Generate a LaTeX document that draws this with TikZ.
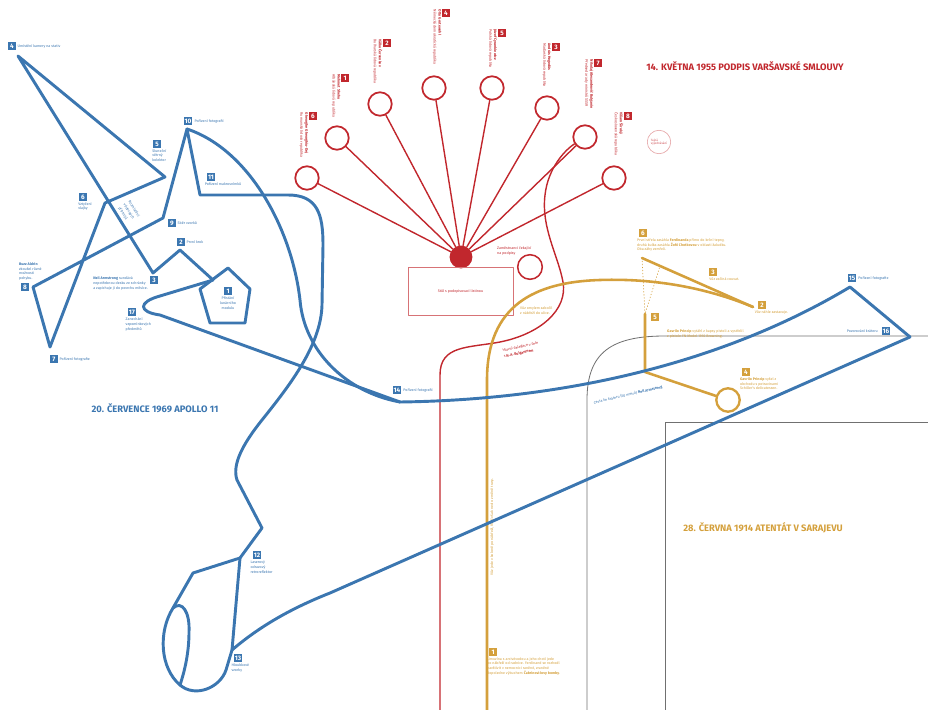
\documentclass[tikz,border=0pt]{standalone}
\usepackage{fontspec}
\setmainfont{Fira Sans}
\usetikzlibrary{positioning}
\definecolor{apblue}{HTML}{3B76B0}
\definecolor{wred}{HTML}{C1272D}
\definecolor{sgold}{HTML}{D4A03C}
\definecolor{mapgray}{HTML}{707070}
\tikzset{
  route/.style={draw=apblue, line width=2.5pt},
  redline/.style={draw=wred, line width=1.2pt},
  goldline/.style={draw=sgold, line width=2.2pt},
  num/.style={fill=#1, text=white, font=\fontsize{5.5}{5.5}\selectfont\bfseries, inner xsep=0.8pt, inner ysep=0pt, minimum width=6pt, minimum height=6pt},
  lab/.style={text=#1, font=\fontsize{3.1}{4.2}\selectfont, align=left, inner sep=0pt},
  rlab/.style={lab=wred, rotate=-90, anchor=north west},
  head/.style={text=#1, font=\fontsize{8}{8}\selectfont\bfseries, inner sep=0pt},
  seat/.style={circle, draw=wred, line width=1.5pt, minimum size=20pt, inner sep=0pt}
}
\begin{document}
\begin{tikzpicture}[x=0.03cm, y=-0.03cm, line cap=round, line join=round]
  \useasboundingbox (0,0) rectangle (928,710);

  % Map of Sarajevo streets (thin gray)
  \draw[mapgray, line width=0.7pt] (587,710) -- (587,400) .. controls (587,352) and (612,336) .. (665,336) -- (928,336);
  \draw[mapgray, line width=0.7pt] (665,710) -- (665,422) -- (928,422);

  % Warsaw treaty: seats round the table
  \node[seat] (c6) at (307,178) {};
  \node[seat] (c1) at (337,138) {};
  \node[seat] (c2) at (380,104) {};
  \node[seat] (c4) at (434,88) {};
  \node[seat] (c5) at (492,88) {};
  \node[seat] (c3) at (547,108) {};
  \node[seat] (c7) at (585,137) {};
  \node[seat] (c8) at (614,178) {};
  \node[circle, fill=wred, minimum size=19.5pt, inner sep=0pt] (dot) at (461,257) {};
  \node[draw=wred!65, line width=0.8pt, minimum width=3.15cm, minimum height=1.44cm, lab=wred] (table) at (460.5,291) {Stůl s podepisovací listinou};
  \node[seat, line width=1.3pt, minimum size=21pt] (wait) at (530,267) {};
  \node[circle, draw=wred!45, line width=0.5pt, minimum size=20pt, lab=wred!80, font=\fontsize{2.6}{3.2}\selectfont] (secret) at (659,142) {Tajná\\vyjednávání};

  \foreach \c in {c1,c2,c3,c4,c5,c6,c7,c8}
    \draw[redline] (dot) -- (\c);

  % delegation route
  \coordinate (rstart) at (440,710);
  \draw[redline] (rstart) -- (440,375) .. controls (440,345) and (468,348) .. (500,342)
    .. controls (540,334) and (568,310) .. (563,282) .. controls (558,255) and (541,228) .. (545,195)
    .. controls (548,168) and (565,150) .. (c7);

  % Signatories
  \node[num=wred] (r6) at (313,116) {6};
  \node[rlab] (q6) at (308.5,112.5) {\textbf{Gheorghe Gheorghiu-Dej}\\Rumunská lidová republika};
  \node[num=wred] (r1) at (345,78) {1};
  \node[rlab] (q1) at (340.5,74.5) {\textbf{Mehmet Shehu}\\Albánská lidová republika};
  \node[num=wred] (r2) at (387,43) {2};
  \node[rlab] (q2) at (382.5,39.5) {\textbf{Vălko Červenkov}\\Bulharská lidová republika};
  \node[num=wred] (r4) at (446,13) {4};
  \node[rlab] (q4) at (441.5,9.5) {\textbf{Otto Grotewohl}\\Německá demokratická republika};
  \node[num=wred] (r5) at (502,33) {5};
  \node[rlab] (q5) at (497.5,29.5) {\textbf{Józef Cyrankiewicz}\\Polská lidová republika};
  \node[num=wred] (r3) at (556,47) {3};
  \node[rlab] (q3) at (551.5,43.5) {\textbf{András Hegedüs}\\Maďarská lidová republika};
  \node[num=wred] (r7) at (598,63) {7};
  \node[rlab] (q7) at (593.5,59.5) {\textbf{Nikolaj Alexandrovič Bulganin}\\Předseda rady ministrů SSSR};
  \node[num=wred] (r8) at (628,116) {8};
  \node[rlab] (q8) at (623.5,112.5) {\textbf{Viliam Široký}\\Československá republika};

  \node[lab=wred, anchor=north west] (twait) at (497,246) {Zaměstnanci čekající\\na podpisy};
  \node[lab=wred, rotate=12, font=\fontsize{3.1}{5.2}\selectfont] (tdeleg) at (521,350) {Hlavní delegace v čele\\s \textbf{N. A. Bulganinem}};
  \node[head=wred] (warsaw) at (745,66) {14. KVĚTNA 1955 PODPIS VARŠAVSKÉ SMLOUVY};

  % Sarajevo: route of the car
  \coordinate (gstart) at (487,710);
  \coordinate (gturn) at (487,380);
  \coordinate (gtwo) at (753,307);
  \coordinate (gsix) at (642,258);
  \coordinate (gmid) at (660,266);
  \coordinate (gfivetop) at (645,314);
  \coordinate (gfivebot) at (645,372);
  \node[circle, draw=sgold, line width=2pt, minimum size=20pt, inner sep=0pt] (gcirc) at (728,400) {};
  \draw[goldline] (gstart) -- (gturn) .. controls (487,305) and (535,282) .. (600,280)
    .. controls (660,278) and (712,290) .. (gtwo);
  \draw[goldline] (gsix) -- (gtwo);
  \draw[sgold, line width=0.6pt, dotted] (gsix) -- (gfivetop) -- (gmid);
  \draw[goldline] (gfivetop) -- (gfivebot) -- (gcirc);

  \node[num=sgold] (g1) at (493,652) {1};
  \node[lab=sgold, below=1pt of g1.south west, anchor=north west, xshift=-2pt] (u1) {Limuzína s arcivévodou a jeho chotí jede\\po nábřeží od radnice. Ferdinand se rozhodl\\navštívit v nemocnici raněné, zraněné\\dopoledne výbuchem \textbf{Čabrinovićovy bomby}.};
  \node[lab=sgold, rotate=90] (uquay) at (492,527) {Vůz jede v koloně po nábřeží, řidič však neví o změně trasy.};
  \node[lab=sgold, anchor=north west] (uturn) at (520,306) {Vůz omylem zabočil\\z nábřeží do ulice.};
  \node[num=sgold] (g2) at (762,305) {2};
  \node[lab=sgold, below=1pt of g2.south west, anchor=north west, xshift=-3pt] (u2) {Vůz náhle zastavuje.};
  \node[num=sgold] (g3) at (713,272) {3};
  \node[lab=sgold, below=1pt of g3.south west, anchor=north west] (u3) {Vůz začíná couvat.};
  \node[num=sgold] (g4) at (746,372) {4};
  \node[lab=sgold, below=1pt of g4.south west, anchor=north west, xshift=-2pt] (u4) {\textbf{Gavrilo Princip} vyšel z\\obchodu s potravinami\\Schiller's delicatessen.};
  \node[num=sgold] (g5) at (655,317) {5};
  \node[lab=sgold, anchor=north west] (u5) at (667,329) {\textbf{Gavrilo Princip} vytáhl z kapsy pistoli a vystřelil\\z pistole FN Model 1910 Browning.};
  \node[num=sgold] (g6) at (643,233) {6};
  \node[lab=sgold, below=1pt of g6.south west, anchor=north west, xshift=-2pt] (u6) {První střela zasáhla \textbf{Ferdinanda} přímo do krční tepny,\\druhá kulka zasáhla \textbf{Žofii Chotkovou} v oblasti žaludku.\\Oba záhy zemřeli.};
  \node[head=sgold] (sarajevo) at (763,528) {28. ČERVNA 1914 ATENTÁT V SARAJEVU};

  % Apollo 11: walk on the Moon
  \coordinate (pa) at (228,268);
  \coordinate (pb) at (250,289);
  \coordinate (pc) at (245,323);
  \coordinate (pd) at (210,323);
  \coordinate (pe) at (200,289);
  \coordinate (s0) at (213,280);
  \coordinate (s2) at (180,250);
  \coordinate (s3) at (153,273);
  \coordinate (s4) at (18,56);
  \coordinate (s5) at (165,177);
  \coordinate (s6) at (105,203);
  \coordinate (s7) at (50,347);
  \coordinate (s8) at (33,287);
  \coordinate (s9) at (163,218);
  \coordinate (s10) at (187,129);
  \coordinate (s11) at (200,195);
  \coordinate (s12) at (240,558);
  \coordinate (s13) at (232,650);
  \coordinate (s14) at (400,402);
  \coordinate (s15) at (850,287);
  \coordinate (s16) at (910,337);

  \draw[route] (pa) -- (pb) -- (pc) -- (pd) -- (pe) -- cycle;
  \draw[route] (s0) -- (s2) -- (s3) -- (s4) -- (s5) -- (s6) -- (s7) -- (s8) -- (s9) -- (s10) -- (s11)
    -- (288,195) .. controls (318,195) and (323,215) .. (323,245) -- (322,305)
    .. controls (321,345) and (290,385) .. (262,420) .. controls (242,445) and (232,465) .. (237,480)
    -- (262,528) -- (s12);
  \draw[route] (s10) .. controls (250,150) and (292,230) .. (300,300) .. controls (304,350) and (345,392) .. (s14);
  \draw[route] (s0) -- (160,296) .. controls (138,302) and (138,312) .. (160,315) -- (s14);
  \draw[route] (s12) -- (193,573) -- (173,608) .. controls (158,632) and (160,668) .. (180,685)
    .. controls (195,698) and (220,688) .. (226,670) -- (s13);
  \draw[route] (173,608) .. controls (182,600) and (190,612) .. (189,632) .. controls (189,652) and (185,670) .. (180,685);
  \draw[route] (s13) -- (s12);
  \draw[route] (s13) .. controls (260,626) and (292,608) .. (330,593) -- (s16);
  \draw[route] (s14) .. controls (560,400) and (720,365) .. (s15) -- (s16);

  \node[num=apblue] (n1) at (228,291) {1};
  \node[lab=apblue, below=1.5pt of n1, align=center] (t1) {Přistání\\lunárního\\modulu};
  \node[num=apblue] (n2) at (181,242) {2};
  \node[lab=apblue, right=1.5pt of n2] (t2) {První krok};
  \node[num=apblue] (n3) at (154,280) {3};
  \node[lab=apblue, anchor=north east] (t3) at ([xshift=-2pt]n3.north west) {\textbf{Neil Armstrong} sundává\\nepotřebnou desku ze schránky\\a zapichuje ji do povrchu měsíce.};
  \node[num=apblue] (n4) at (12,46) {4};
  \node[lab=apblue, right=1.5pt of n4] (t4) {Umístění kamery na stativ};
  \node[num=apblue] (n5) at (157,144) {5};
  \node[lab=apblue, below=1pt of n5.south west, anchor=north west, xshift=-1pt] (t5) {Sluneční\\větrný\\kolektor};
  \node[num=apblue] (n6) at (83,197) {6};
  \node[lab=apblue, below=1pt of n6.south west, anchor=north west, xshift=-1pt] (t6) {Vztyčení\\vlajky};
  \node[num=apblue] (n7) at (54,359) {7};
  \node[lab=apblue, right=1.5pt of n7] (t7) {Pořízení fotografie};
  \node[num=apblue] (n8) at (25,287) {8};
  \node[lab=apblue, anchor=south west] (t8) at ([yshift=2pt, xshift=-2pt]n8.north west) {\textbf{Buzz Aldrin}\\zkoušel různé\\možnosti\\pohybu.};
  \node[num=apblue] (n9) at (172,223) {9};
  \node[lab=apblue, right=1.5pt of n9] (t9) {Sběr vzorků};
  \node[num=apblue] (n10) at (188,121) {10};
  \node[lab=apblue, right=1.5pt of n10] (t10) {Pořízení fotografií};
  \node[num=apblue] (n11) at (211,177) {11};
  \node[lab=apblue, below=1.5pt of n11.south west, anchor=north west, xshift=-2pt] (t11) {Pořízení makrosnímků};
  \node[num=apblue] (n12) at (257,555) {12};
  \node[lab=apblue, below=1.5pt of n12.south west, anchor=north west, xshift=-2pt] (t12) {Laserový\\odrazový\\retroreflektor};
  \node[num=apblue] (n13) at (238,658) {13};
  \node[lab=apblue, below=1.5pt of n13.south west, anchor=north west, xshift=-2pt] (t13) {Hloubkové\\vzorky};
  \node[num=apblue] (n14) at (397,390) {14};
  \node[lab=apblue, right=1.5pt of n14] (t14) {Pořízení fotografií};
  \node[num=apblue] (n15) at (852,278) {15};
  \node[lab=apblue, right=1.5pt of n15] (t15) {Pořízení fotografie};
  \node[num=apblue] (n16) at (886,331) {16};
  \node[lab=apblue, left=3pt of n16] (t16) {Pozorování kráteru};
  \node[num=apblue] (n17) at (132,312) {17};
  \node[lab=apblue, below=1.5pt of n17.south west, anchor=north west, xshift=-2pt] (t17) {Zanechání\\vzpomínkových\\předmětů};
  \node[lab=apblue, rotate=-58, font=\fontsize{3.1}{5}\selectfont] (tinst) at (129,212) {Rozmístění\\vědeckých\\přístrojů};
  \node[lab=apblue, rotate=13] (tcrat) at (628,395) {Cesta ke kráteru (50 metrů) \textbf{Neil Armstrong}};
  \node[head=apblue] (apollo) at (155,408) {20. ČERVENCE 1969 APOLLO 11};
\end{tikzpicture}
\end{document}
